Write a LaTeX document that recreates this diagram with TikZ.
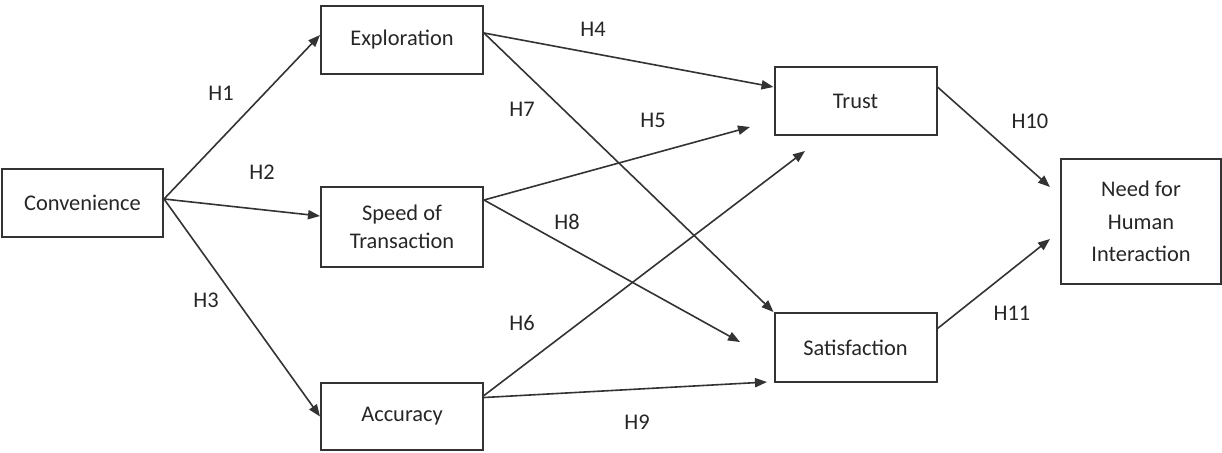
\documentclass[tikz,border=0pt]{standalone}
\usepackage{fontspec}
\setmainfont{Carlito}
\usetikzlibrary{arrows.meta,positioning}

\begin{document}
\begin{tikzpicture}[x=0.5pt,y=-0.5pt]
 % boxes, hypothesis arrows and their labels
\tikzset{box/.style={draw=black!80, line width=1pt, minimum width=81pt, minimum height=34pt, inner sep=0pt, align=center, text=black!85, font=\fontsize{11.2}{14}\selectfont}}
\tikzset{hyp/.style={draw=black!80, line width=0.8pt, -{Triangle[length=6pt,width=4.6pt]}}}
\tikzset{hlabel/.style={inner sep=0pt, text=black!85, font=\fontsize{11.2}{14}\selectfont}}
\useasboundingbox (0,0) rectangle (1222,452);

\node[box, minimum width=80.5pt] (conv) at (82.5,203) {Convenience};
\node[box] (expl) at (402,40) {Exploration};
\node[box, minimum height=40pt] (speed) at (402,227) {Speed of\\Transaction};
\node[box, minimum height=33.5pt] (acc) at (402,416.5) {Accuracy};
\node[box] (trust) at (855.5,101) {Trust};
\node[box, minimum height=34.5pt] (satis) at (855.5,347.5) {Satisfaction};
\node[box, minimum width=80pt, minimum height=62.5pt, font=\fontsize{11.2}{16.2}\selectfont] (need) at (1141,221.5) {Need for\\Human\\Interaction};

% free arrow ends (they stop short of the boxes)
\coordinate (h5end) at (750,127);
\coordinate (h6end) at (805,151);
\coordinate (h8end) at (740,342);
\coordinate (h9end) at (767,382);
\coordinate (h10end) at (1050,187);
\coordinate (h11end) at (1050,239);

\draw[hyp] ([yshift=2pt]conv.east) -- ([yshift=2.5pt]expl.west);
\draw[hyp] ([yshift=2pt]conv.east) -- ([yshift=5.5pt]speed.west);
\draw[hyp] ([yshift=2pt]conv.east) -- (acc.west);
\draw[hyp] ([yshift=3.5pt]expl.east) -- ([yshift=7pt]trust.west);
\draw[hyp] ([yshift=3.5pt]expl.east) -- (satis.north west);
\draw[hyp] ([yshift=13.5pt]speed.east) -- (h5end);
\draw[hyp] ([yshift=13.5pt]speed.east) -- (h8end);
\draw[hyp] ([yshift=10.5pt]acc.east) -- (h6end);
\draw[hyp] ([yshift=9.5pt]acc.east) -- (h9end);
\draw[hyp] ([yshift=7pt]trust.east) -- (h10end);
\draw[hyp] ([yshift=9.5pt]satis.east) -- (h11end);

\node[hlabel] (l1) at (221,93) {H1};
\node[hlabel] (l2) at (262,172) {H2};
\node[hlabel] (l3) at (206,300) {H3};
\node[hlabel] (l4) at (593,29) {H4};
\node[hlabel] (l5) at (653,120) {H5};
\node[hlabel] (l6) at (522,323) {H6};
\node[hlabel] (l7) at (522,109) {H7};
\node[hlabel] (l8) at (567,222) {H8};
\node[hlabel] (l9) at (637,422) {H9};
\node[hlabel] (l10) at (1030,121) {H10};
\node[hlabel] (l11) at (1012,313) {H11};
\end{tikzpicture}
\end{document}
